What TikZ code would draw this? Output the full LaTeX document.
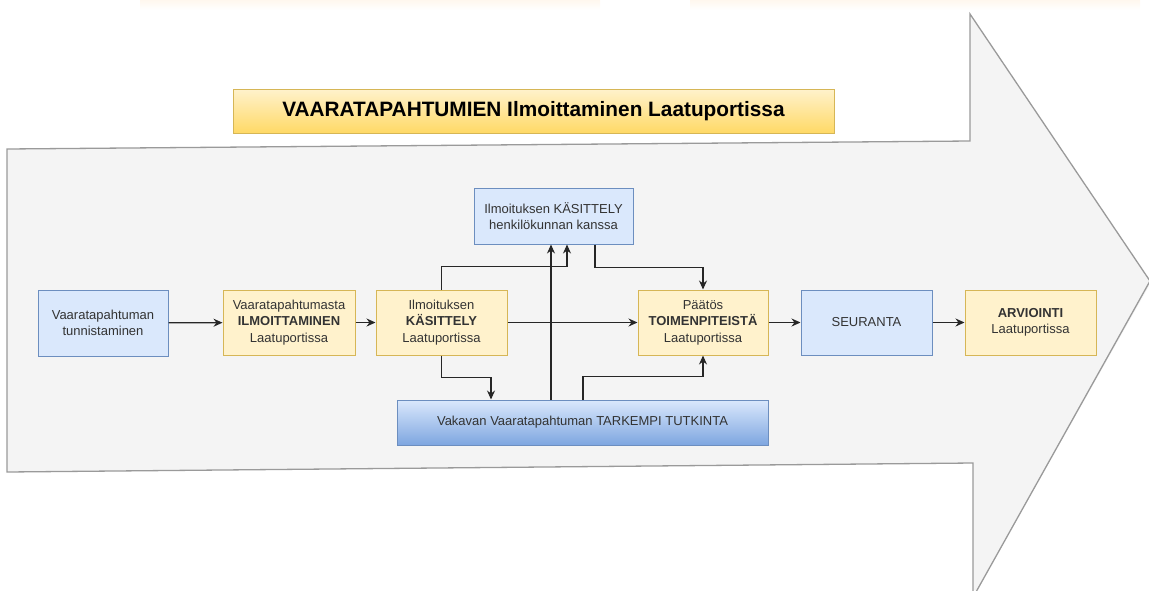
\documentclass[tikz,border=0pt]{standalone}
\usepackage{fontspec}
\setmainfont{Liberation Sans}
\usetikzlibrary{arrows.meta}
\definecolor{bfill}{HTML}{DAE8FC}
\definecolor{bstroke}{HTML}{6C8EBF}
\definecolor{yfill}{HTML}{FFF2CC}
\definecolor{ystroke}{HTML}{D6B656}
\definecolor{ydark}{HTML}{FFD966}
\definecolor{bdark}{HTML}{7EA6E0}
\definecolor{txt}{HTML}{333333}
\definecolor{arrfill}{HTML}{F4F4F4}
\definecolor{arrline}{HTML}{9A9A9A}
\definecolor{strip}{HTML}{FFF7EE}
\tikzset{
  box/.style={line width=1pt, inner sep=0pt, align=center, text=txt,
    font=\fontsize{13}{16.5}\selectfont},
  bluebox/.style={box, draw=bstroke, fill=bfill},
  yellowbox/.style={box, draw=ystroke, fill=yfill},
  conn/.style={draw=black!85, line width=1.2pt, -{Stealth[length=9pt,width=8pt]}},
}
\begin{document}
\begin{tikzpicture}[x=1pt,y=-1pt]
\useasboundingbox (0,0) rectangle (1149,590);
\clip (0,0) rectangle (1149,590);
% faint strip at top
\shade[top color=strip, bottom color=white] (140,0) rectangle (600,10);
\shade[top color=strip, bottom color=white] (690,0) rectangle (1140,10);
% big arrow
\fill[arrfill] (7,149) -- (970,141) -- (970,14) -- (1149,280) -- (1149,286) -- (977,590) -- (973,590) -- (973,463) -- (7,472) -- cycle;
\draw[arrline, line width=1.3pt, line join=miter] (973,592) -- (973,463) -- (7,472) -- (7,149) -- (970,141) -- (970,14) -- (1150,281) -- (976,592);
% title
\node[box, draw=ystroke, top color=yfill, bottom color=ydark, text=black,
  minimum width=601pt, minimum height=44pt,
  font=\fontsize{20.8}{24}\selectfont\bfseries] (title) at (533.5,111)
  {VAARATAPAHTUMIEN Ilmoittaminen Laatuportissa};
% nodes
\node[bluebox, minimum width=130pt, minimum height=66pt] (tunn) at (103,323)
  {Vaaratapahtuman\\tunnistaminen};
\node[yellowbox, minimum width=132pt, minimum height=65pt] (ilm) at (289,322.5)
  {Vaaratapahtumasta\\\textbf{ILMOITTAMINEN}\\Laatuportissa};
\node[yellowbox, minimum width=131pt, minimum height=65pt] (kas) at (441.5,322.5)
  {Ilmoituksen\\\textbf{KÄSITTELY}\\Laatuportissa};
\node[bluebox, minimum width=159pt, minimum height=56pt] (henk) at (553.5,216)
  {Ilmoituksen KÄSITTELY\\henkilökunnan kanssa};
\node[yellowbox, minimum width=130pt, minimum height=65pt] (paat) at (703,322.5)
  {Päätös\\\textbf{TOIMENPITEISTÄ}\\Laatuportissa};
\node[bluebox, minimum width=131pt, minimum height=65pt] (seur) at (866.5,322.5)
  {SEURANTA};
\node[yellowbox, minimum width=131pt, minimum height=65pt] (arv) at (1030.5,322.5)
  {\textbf{ARVIOINTI}\\Laatuportissa};
\node[box, draw=bstroke, top color=bfill, bottom color=bdark,
  minimum width=371pt, minimum height=45pt] (vak) at (582.5,422.5)
  {Vakavan Vaaratapahtuman TARKEMPI TUTKINTA};
% connectors
\draw[conn] (tunn) -- (ilm);
\draw[conn] (ilm) -- (kas);
\draw[conn] (kas) -- (paat);
\draw[conn] (paat) -- (seur);
\draw[conn] (seur) -- (arv);
\draw[conn] (kas.north) -- ++(0,-23) -| ([xshift=13.5pt]henk.south);
\draw[conn] ([xshift=-31.5pt]vak.north) -- ([xshift=-31.5pt]vak.north |- henk.south);
\draw[conn] ([xshift=41.5pt]henk.south) -- ++(0,23) -| (paat.north);
\draw[conn] (kas.south) -- ++(0,22) -| ([xshift=-91.5pt]vak.north);
\draw[conn] ([xshift=0.5pt]vak.north) -- ++(0,-23) -| (paat.south);
\end{tikzpicture}
\end{document}
